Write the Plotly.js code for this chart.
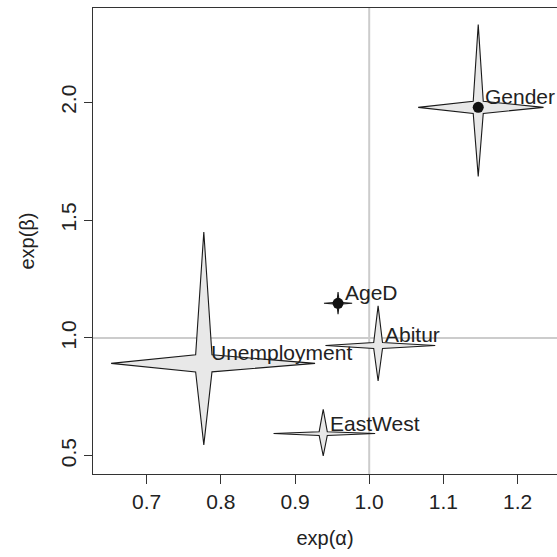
<!DOCTYPE html>
<html>
<head>
<meta charset="utf-8">
<script src="https://cdn.plot.ly/plotly-3.0.1.min.js"></script>
<style>html,body{margin:0;padding:0;background:#fff;}</style>
</head>
<body>
<div id="chart" style="width:557px;height:557px;"></div>
<script>
// ---- data ----
const names  = ["Gender", "AgeD", "Abitur", "Unemployment", "EastWest"];
const alpha  = [1.147, 0.958, 1.012, 0.777, 0.938];   // exp(alpha) estimate
const alphaLo = [1.066, 0.939, 0.941, 0.652, 0.871];
const alphaHi = [1.235, 0.977, 1.089, 0.927, 1.008];
const beta   = [1.979, 1.147, 0.968, 0.892, 0.594];   // exp(beta) estimate
const betaLo = [1.686, 1.101, 0.817, 0.546, 0.499];
const betaHi = [2.330, 1.195, 1.136, 1.450, 0.697];
const marked = [true, true, false, false, false];     // solid dot at centre
const xTicks = [0.7, 0.8, 0.9, 1.0, 1.1, 1.2];
const yTicks = [0.5, 1.0, 1.5, 2.0];
const refValue = 1.0;

const FONT = "Liberation Sans, Arial, Helvetica, sans-serif";
const TXT = "#222222";
const waist = 0.04; // inner corner size, fraction of the span

const traces = [];
names.forEach((n, i) => {
  const cx = alpha[i], cy = beta[i];
  const dx = waist * (alphaHi[i] - alphaLo[i]);
  const dy = waist * (betaHi[i] - betaLo[i]);
  const xs = [alphaLo[i], cx - dx, cx, cx + dx, alphaHi[i], cx + dx, cx, cx - dx, alphaLo[i]];
  const ys = [cy, cy + dy, betaHi[i], cy + dy, cy, cy - dy, betaLo[i], cy - dy, cy];
  traces.push({
    type: "scatter", mode: "lines", x: xs, y: ys,
    fill: "toself", fillcolor: "#e8e8e8",
    line: {color: "#1a1a1a", width: 1.1},
    hoverinfo: "skip", showlegend: false
  });
});
const mx = [], my = [];
names.forEach((n, i) => { if (marked[i]) { mx.push(alpha[i]); my.push(beta[i]); } });
traces.push({
  type: "scatter", mode: "markers", x: mx, y: my,
  marker: {color: "#111111", size: 11}, showlegend: false, hoverinfo: "skip"
});

const annotations = names.map((n, i) => ({
  x: alpha[i], y: beta[i], xref: "x", yref: "y",
  text: n, showarrow: false, xanchor: "left", yanchor: "bottom",
  xshift: 5, yshift: -3,
  font: {family: FONT, size: 21, color: TXT}
}));

const layout = {
  width: 557, height: 557,
  paper_bgcolor: "#ffffff", plot_bgcolor: "#ffffff",
  margin: {l: 93, r: 0, t: 8, b: 83},
  showlegend: false,
  xaxis: {
    range: [0.6276, 1.2532], tickvals: xTicks, tickformat: ".1f",
    ticks: "outside", ticklen: 9, tickwidth: 1, tickcolor: "#333",
    showline: true, linecolor: "#333", linewidth: 1, mirror: true,
    showgrid: false, zeroline: false,
    tickfont: {family: FONT, size: 21, color: TXT},
    title: {text: "exp(α)", font: {family: FONT, size: 20, color: TXT}, standoff: 18}
  },
  yaxis: {
    range: [0.4223, 2.4007], tickvals: yTicks, tickformat: ".1f",
    ticks: "outside", ticklen: 8, tickwidth: 1, tickcolor: "#333",
    showline: true, linecolor: "#333", linewidth: 1, mirror: false,
    showgrid: false, zeroline: false, tickangle: -90,
    tickfont: {family: FONT, size: 21, color: TXT},
    title: {text: "exp(β)", font: {family: FONT, size: 20, color: TXT}, standoff: 16}
  },
  shapes: [
    {type: "line", layer: "below", xref: "x", yref: "paper", x0: refValue, x1: refValue, y0: 0, y1: 1,
     line: {color: "#cccccc", width: 2}},
    {type: "line", layer: "below", xref: "paper", yref: "y", x0: 0, x1: 1, y0: refValue, y1: refValue,
     line: {color: "#cccccc", width: 2}}
  ],
  annotations: annotations
};

Plotly.newPlot("chart", traces, layout, {staticPlot: true, displayModeBar: false});
</script>
</body>
</html>
